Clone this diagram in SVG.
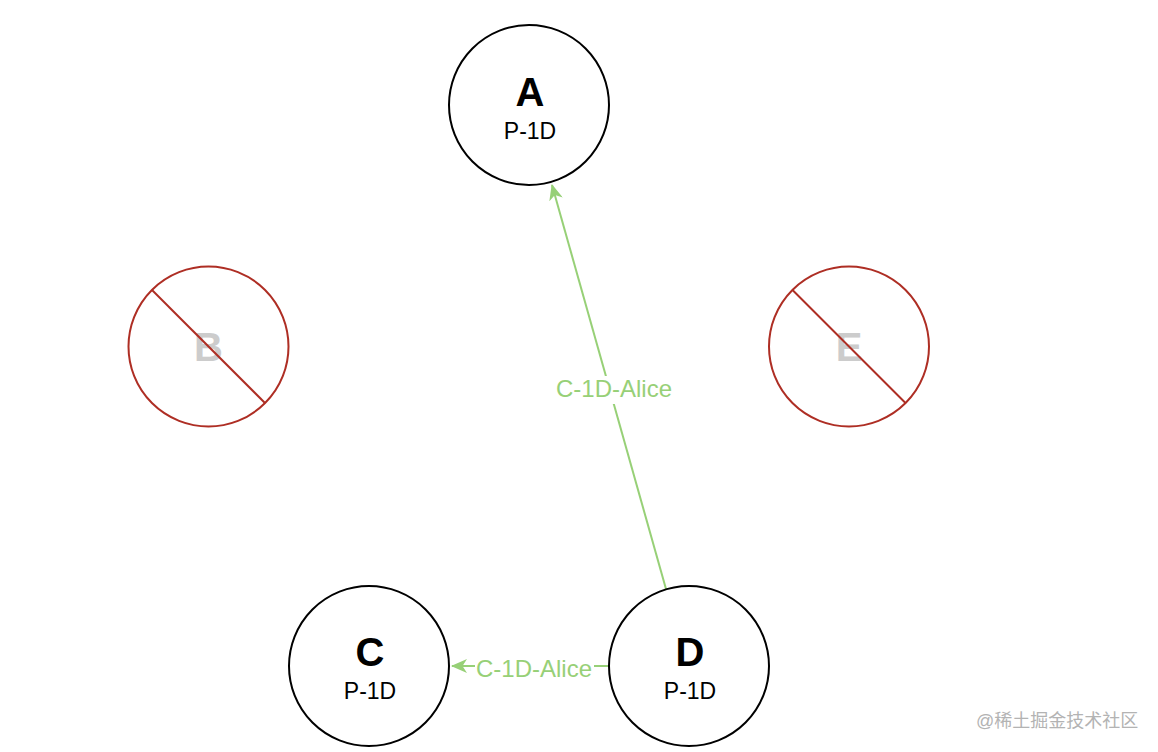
<svg xmlns="http://www.w3.org/2000/svg" width="1158" height="752" viewBox="0 0 1158 752">
<defs>
<style>
.node{fill:#fff;stroke:#000;stroke-width:2}
.dead{fill:#fff;stroke:#AE2E24;stroke-width:2}
.slash{stroke:#AE2E24;stroke-width:2}
.big{font-family:"Liberation Sans",Arial,sans-serif;font-weight:bold;font-size:40px;text-anchor:middle;fill:#000}
.bigdead{font-family:"Liberation Sans",Arial,sans-serif;font-weight:bold;font-size:40px;text-anchor:middle;fill:#CCCCCC}
.sub{font-family:"Liberation Sans",Arial,sans-serif;font-size:23px;text-anchor:middle;fill:#000}
.edge{fill:none;stroke:#97D077;stroke-width:2}
.elabel{font-family:"Liberation Sans",Arial,sans-serif;font-size:24px;text-anchor:middle;fill:#97D077}
.wm{font-family:"Liberation Sans","Noto Sans CJK SC",sans-serif;font-size:18px;fill:#B3B3B3}
</style>
<marker id="arr" viewBox="0 0 16 14" refX="15" refY="7" markerWidth="16" markerHeight="14" markerUnits="userSpaceOnUse" orient="auto">
<path d="M0,0 L16,7 L0,14 L4.5,7 Z" fill="#97D077"/>
</marker>
</defs>
<rect width="1158" height="752" fill="#fff"/>
<g id="edges">
<line class="edge" x1="666" y1="589" x2="552" y2="185" marker-end="url(#arr)"/>
<line class="edge" x1="609" y1="666" x2="452" y2="666" marker-end="url(#arr)"/>
<rect x="555" y="376" width="118" height="28" fill="#fff"/>
<text class="elabel" x="614" y="397">C-1D-Alice</text>
<rect x="475" y="655" width="119" height="26" fill="#fff"/>
<text class="elabel" x="534" y="677">C-1D-Alice</text>
</g>
<g id="nodeA">
<circle class="node" cx="529" cy="105" r="80"/>
<text class="big" x="530" y="106">A</text>
<text class="sub" x="530" y="139">P-1D</text>
</g>
<g id="nodeB">
<circle class="dead" cx="208.5" cy="346.5" r="80"/>
<text class="bigdead" x="208.5" y="361">B</text>
<line class="slash" x1="152" y1="290" x2="265" y2="403"/>
</g>
<g id="nodeE">
<circle class="dead" cx="849" cy="346.5" r="80"/>
<text class="bigdead" x="849" y="361">E</text>
<line class="slash" x1="792.5" y1="290" x2="905.5" y2="403"/>
</g>
<g id="nodeC">
<circle class="node" cx="369" cy="666" r="80"/>
<text class="big" x="370" y="666">C</text>
<text class="sub" x="370" y="699">P-1D</text>
</g>
<g id="nodeD">
<circle class="node" cx="689" cy="666" r="80"/>
<text class="big" x="690" y="666">D</text>
<text class="sub" x="690" y="699">P-1D</text>
</g>
<text class="wm" x="976" y="727">@稀土掘金技术社区</text>
</svg>
